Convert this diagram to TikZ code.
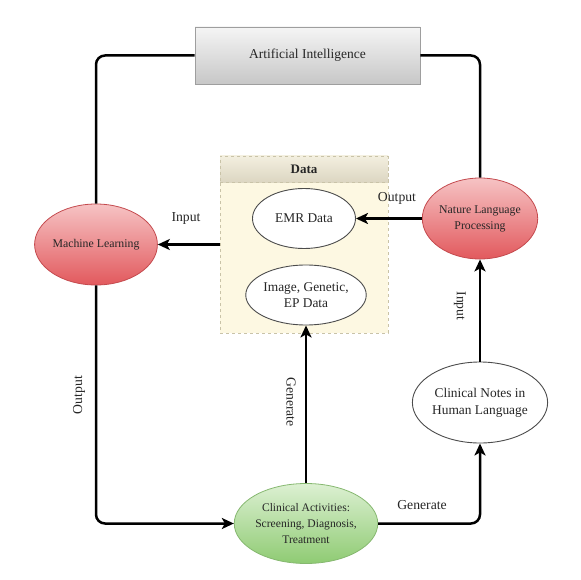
\documentclass[tikz,border=0pt]{standalone}
\usepackage{fontspec}
\setmainfont{Liberation Serif}
\usetikzlibrary{shapes.geometric,arrows.meta}
\definecolor{txt}{HTML}{262626}
\definecolor{redtop}{HTML}{F6C3C4}
\definecolor{redbot}{HTML}{E2595D}
\definecolor{redline}{HTML}{C44A4E}
\definecolor{grntop}{HTML}{DCF0D2}
\definecolor{grnbot}{HTML}{8FCB73}
\definecolor{grnline}{HTML}{86B870}
\definecolor{cream}{HTML}{FDF8E2}
\definecolor{hdrtop}{HTML}{F3EFDF}
\definecolor{hdrbot}{HTML}{DCD6C2}
\definecolor{dashc}{HTML}{C9C3A8}
\begin{document}
\begin{tikzpicture}[x=1pt,y=-1pt,
  font=\fontsize{13.5}{15}\selectfont, text=txt,
  conn/.style={line width=2.5pt, rounded corners=9pt},
  arr/.style={conn,-{Stealth[length=12pt,width=11pt,inset=3pt]}},
  aibox/.style={draw=black!38, line width=0.8pt, top color=black!4, bottom color=black!22,
    minimum width=225pt, minimum height=57pt, inner sep=0pt},
  redell/.style={ellipse, draw=redline, line width=0.8pt, top color=redtop, bottom color=redbot,
    minimum width=112pt, minimum height=81pt, inner sep=0pt, align=center,
    font=\fontsize{11.8}{16}\selectfont},
  grnell/.style={ellipse, draw=grnline, line width=0.8pt, top color=grntop, bottom color=grnbot,
    minimum width=112pt, minimum height=80pt, inner sep=0pt, align=center,
    font=\fontsize{11.6}{16}\selectfont},
  whtell/.style={ellipse, draw=black!70, line width=0.9pt, fill=white, inner sep=0pt, align=center,
    font=\fontsize{13.4}{17}\selectfont},
  lbl/.style={font=\fontsize{13.7}{15}\selectfont, inner sep=0pt}
]
\useasboundingbox (0,0) rectangle (580,580);

% data container
\node[draw=dashc, dashed, line width=0.7pt, fill=cream, minimum width=168pt, minimum height=177pt,
  inner sep=0pt] (data) at (304,244.5) {};
\node[draw=dashc, dashed, line width=0.7pt, top color=hdrtop, bottom color=hdrbot,
  minimum width=168pt, minimum height=26pt, inner sep=0pt,
  font=\bfseries\fontsize{13}{15}\selectfont] (hdr) at (304,169) {Data};

\node[aibox] (ai) at (307.5,55.5) {Artificial Intelligence};

\node[redell] (ml) at (96,244.5) {Machine Learning};
\node[redell] (nlp) at (480,218.5) {Nature Language\\Processing};

\node[whtell, minimum width=103pt, minimum height=60pt] (emr) at (304,218.5) {EMR Data};
\node[whtell, minimum width=106pt, minimum height=60pt, font=\fontsize{13.4}{16}\selectfont] (img) at (306,295) {Image, Genetic,\\EP Data};

\node[whtell, minimum width=108pt, minimum height=81pt] (notes) at (480,402.5) {Clinical Notes in\\Human Language};

\node[grnell] (ca) at (306,523.5) {Clinical Activities:\\Screening, Diagnosis,\\Treatment};

% connectors
\draw[conn] (ai.west) -| (ml.north);
\draw[conn] (ai.east) -| (nlp.north);
\draw[arr] (data.west |- ml.east) -- (ml.east);
\draw[arr] (nlp.west) -- (emr.east);
\draw[arr] (ml.south) |- (ca.west);
\draw[arr] (ca.north) -- (img.south);
\draw[arr] (ca.east) -| (notes.south);
\draw[arr] (notes.north) -- (nlp.south);

% labels
\node[lbl] (l1) at (186,218) {Input};
\node[lbl] (l2) at (397,198) {Output};
\node[lbl, rotate=90] (l3) at (79,395) {Output};
\node[lbl, rotate=-90] (l4) at (291,402) {Generate};
\node[lbl] (l5) at (422,505) {Generate};
\node[lbl, rotate=-90] (l6) at (460,306) {Input};
\end{tikzpicture}
\end{document}
